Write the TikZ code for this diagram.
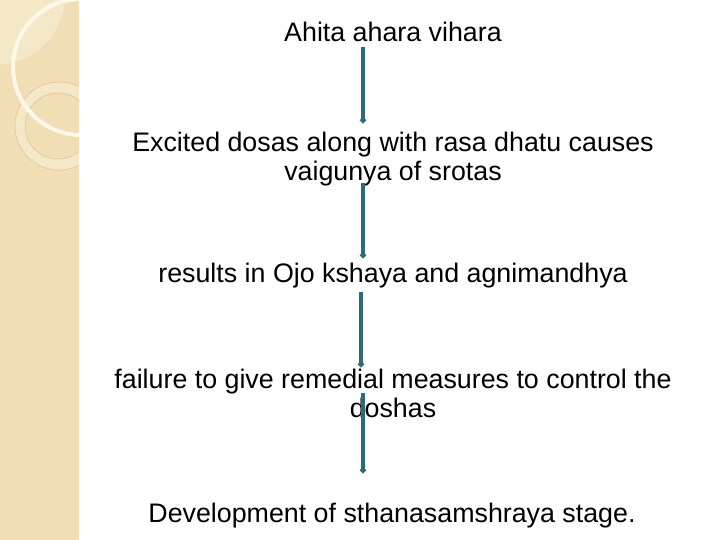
\documentclass[tikz,border=0pt]{standalone}
\usepackage{fontspec}
\setmainfont{Liberation Sans}
\usetikzlibrary{arrows.meta}
\definecolor{strip}{HTML}{F1DEB4}
\definecolor{stripl}{HTML}{F5E8C8}
\definecolor{arcw}{HTML}{FFF9E8}
\definecolor{ringc}{HTML}{DCC497}
\definecolor{teal}{HTML}{2E6B7A}
\tikzset{
  stagetext/.style={anchor=base, inner sep=0pt, font=\fontsize{26.8}{29}\selectfont, text=black},
  flowline/.style={draw=teal, line width=4pt, -{Circle[length=5.5pt,width=5.5pt]}},
}
\begin{document}
\begin{tikzpicture}[x=1pt,y=-1pt]
\useasboundingbox (0,0) rectangle (720,540);
\fill[white] (0,0) rectangle (720,540);
% decorative left strip
\fill[strip] (0,0) rectangle (79,540);
\begin{scope}
  \clip (0,0) rectangle (79,540);
  \fill[stripl] (-5,-5) circle (70pt);
  \fill[stripl, even odd rule] (59,126) circle (44pt) (58,126) circle (33pt);
  \draw[ringc, line width=0.6pt] (59,126) circle (44pt);
  \draw[ringc, line width=0.6pt] (58,126) circle (33pt);
  \draw[arcw, line width=4pt] (81,67) circle (68pt);
\end{scope}
% texts
\node[stagetext] (a) at (393,42) {Ahita ahara vihara};
\node[stagetext] (b) at (393,152) {\begin{tabular}[t]{@{}c@{}}Excited dosas along with rasa dhatu causes\\vaigunya of srotas\end{tabular}};
\node[stagetext] (c) at (393,282) {results in Ojo kshaya and agnimandhya};
\node[stagetext] (d) at (393,388) {\begin{tabular}[t]{@{}c@{}}failure to give remedial measures to control the\\doshas\end{tabular}};
\node[stagetext] (e) at (392,522) {Development of sthanasamshraya stage.};
% connectors
\draw[flowline] ([xshift=-30pt,yshift=-5pt]a.base) -- ([xshift=-30pt,yshift=29pt]b.base);
\draw[flowline] ([xshift=-30pt,yshift=-31pt]b.base) -- ([xshift=-30pt,yshift=24pt]c.base);
\draw[flowline] ([xshift=-32pt,yshift=-10pt]c.base) -- ([xshift=-32pt,yshift=21pt]d.base);
\draw[flowline] ([xshift=-30pt,yshift=-5pt]d.base) -- ([xshift=-29pt,yshift=49pt]e.base);
\end{tikzpicture}
\end{document}
